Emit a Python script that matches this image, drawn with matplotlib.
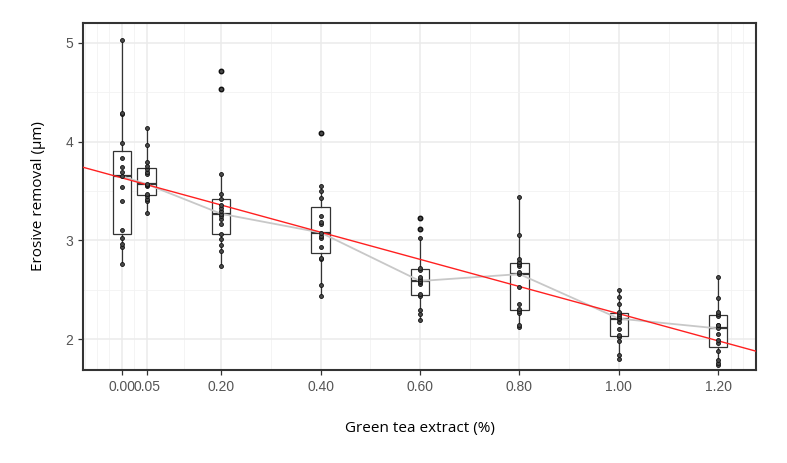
import numpy as np
import matplotlib
matplotlib.use("Agg")
import matplotlib.pyplot as plt

# green tea extract concentration (%) per group
doses = [0.00, 0.05, 0.20, 0.40, 0.60, 0.80, 1.00, 1.20]
tick_labels = ["0.00", "0.05", "0.20", "0.40", "0.60", "0.80", "1.00", "1.20"]

# erosive removal (um)
g000 = [2.76, 2.93, 2.96, 3.03, 3.11, 3.40, 3.54, 3.65, 3.69, 3.74, 3.83, 3.99, 4.28, 4.29, 5.03]
g005 = [3.28, 3.40, 3.42, 3.45, 3.47, 3.55, 3.56, 3.57, 3.67, 3.69, 3.72, 3.75, 3.79, 3.97, 4.14]
g020 = [2.74, 2.89, 2.95, 3.01, 3.07, 3.17, 3.22, 3.25, 3.27, 3.30, 3.33, 3.36, 3.42, 3.47, 3.67, 4.53, 4.71]
g040 = [2.44, 2.55, 2.81, 2.82, 2.93, 3.03, 3.05, 3.08, 3.17, 3.19, 3.25, 3.43, 3.50, 3.55, 4.09]
g060 = [2.20, 2.26, 2.30, 2.44, 2.46, 2.56, 2.58, 2.59, 2.61, 2.63, 2.70, 2.72, 3.03, 3.12, 3.23]
g080 = [2.12, 2.14, 2.27, 2.29, 2.31, 2.36, 2.53, 2.66, 2.68, 2.74, 2.76, 2.78, 2.81, 3.06, 3.44]
g100 = [1.80, 1.84, 1.98, 2.02, 2.04, 2.10, 2.18, 2.21, 2.22, 2.24, 2.26, 2.28, 2.36, 2.43, 2.50]
g120 = [1.74, 1.76, 1.79, 1.88, 1.96, 1.99, 2.05, 2.11, 2.14, 2.15, 2.24, 2.26, 2.28, 2.42, 2.63]
groups = [g000, g005, g020, g040, g060, g080, g100, g120]

fig = plt.figure(figsize=(7.87, 4.63), dpi=100)
ax = fig.add_axes([0.1055, 0.2009, 0.8551, 0.7494])

ax.set_xlim(-0.078, 1.276)
ax.set_ylim(1.69, 5.2)

# grid like theme_bw
ax.set_xticks(doses)
ax.set_xticklabels(tick_labels)
ax.set_yticks([2, 3, 4, 5])
ax.set_xticks([-0.075, -0.05, -0.025, 0.025, 0.125, 0.3, 0.5, 0.7, 0.9, 1.1, 1.225, 1.25], minor=True)
ax.set_yticks([2.5, 3.5, 4.5], minor=True)
ax.grid(which="major", color="#ebebeb", linewidth=1.1, zorder=0)
ax.grid(which="minor", color="#f2f2f2", linewidth=0.6, zorder=0)
ax.set_axisbelow(True)

# boxplots
bp = ax.boxplot(groups, positions=doses, widths=0.037, whis=1.5, patch_artist=True,
                manage_ticks=False, showcaps=False,
                boxprops=dict(facecolor="white", edgecolor="#333333", linewidth=0.9),
                whiskerprops=dict(color="#333333", linewidth=0.9),
                medianprops=dict(color="#333333", linewidth=1.6),
                flierprops=dict(marker="o", markerfacecolor="black", markeredgecolor="black",
                                markersize=3.2))
for b in bp["boxes"]:
    b.set_zorder(2)

# grey line through group medians
medians = [np.median(g) for g in groups]
ax.plot(doses, medians, color="#c8c8c8", linewidth=1.3, zorder=3)

# red linear fit over all observations
all_x = np.concatenate([[d] * len(g) for d, g in zip(doses, groups)])
all_y = np.concatenate(groups)
slope, intercept = np.polyfit(all_x, all_y, 1)
xs = np.array(ax.get_xlim())
ax.plot(xs, intercept + slope * xs, color="#ff2020", linewidth=1.0, zorder=4)

# individual observations
for d, g in zip(doses, groups):
    ax.scatter([d] * len(g), g, s=8, facecolor="#4a4a4a", edgecolor="#111111",
               linewidth=0.6, zorder=5)

for side in ax.spines.values():
    side.set_color("#333333")
    side.set_linewidth(1.5)

ax.tick_params(axis="both", which="major", length=3.5, width=0.9, color="#333333",
               labelcolor="#555555", labelsize=10)
ax.tick_params(axis="both", which="minor", length=0)
for lab in ax.get_xticklabels() + ax.get_yticklabels():
    lab.set_fontfamily("Liberation Sans")

ax.set_xlabel("Green tea extract (%)", fontsize=11, family="Open Sans", labelpad=20)
ax.set_ylabel("Erosive removal (\u03bcm)", fontsize=11, family="Open Sans", labelpad=14)

fig.savefig("out.png", dpi=100)
